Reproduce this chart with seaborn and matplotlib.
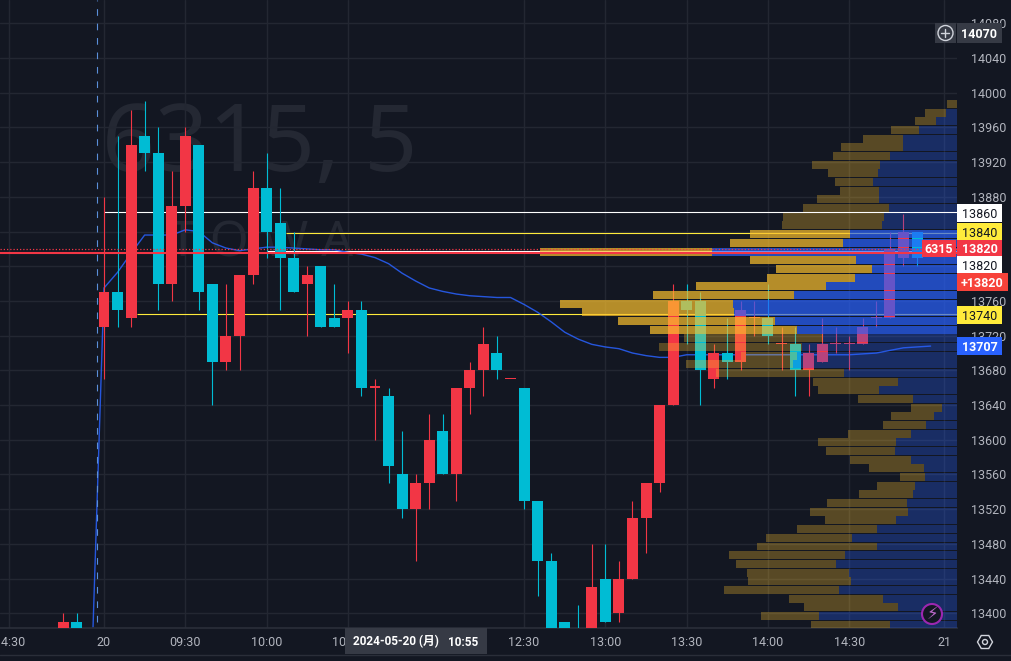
import numpy as np
import pandas as pd
import matplotlib
matplotlib.use("Agg")
import matplotlib.pyplot as plt
from matplotlib.patches import Circle, Rectangle, RegularPolygon
import seaborn as sns

# ohlc, 5 minute candles, first two are from the previous session
candle_index = list(range(-3, -1)) + list(range(0, 61))
opens = [13370, 13390,
         13730, 13770, 13740, 13950, 13930, 13780, 13870, 13940, 13780, 13690,
         13720, 13790, 13890, 13850, 13810, 13780, 13800, 13740, 13740, 13750,
         13660, 13650, 13560, 13520, 13550, 13610, 13560, 13660, 13680, 13700,
         13670, 13660, 13530, 13460, 13390, 13370, 13370, 13440, 13400, 13440,
         13510, 13550, 13640, 13760, 13760, 13670, 13700, 13690, 13740, 13740,
         13710, 13710, 13680, 13690, 13710, 13710, 13710, 13740, 13740, 13810, 13840]
highs = [13400, 13400,
         13880, 13950, 13980, 13990, 13960, 13910, 13960, 13940, 13780, 13780,
         13790, 13910, 13930, 13890, 13840, 13800, 13800, 13780, 13760, 13760,
         13670, 13660, 13610, 13560, 13630, 13630, 13660, 13690, 13730, 13720,
         13670, 13660, 13530, 13470, 13390, 13410, 13480, 13480, 13460, 13530,
         13550, 13640, 13780, 13780, 13770, 13710, 13740, 13760, 13760, 13780,
         13730, 13730, 13710, 13740, 13730, 13720, 13740, 13760, 13840, 13860, 13840]
lows = [13370, 13370,
        13670, 13730, 13730, 13910, 13750, 13760, 13840, 13750, 13640, 13680,
        13680, 13780, 13810, 13750, 13770, 13720, 13730, 13730, 13700, 13650,
        13600, 13550, 13510, 13460, 13520, 13560, 13530, 13630, 13650, 13670,
        13670, 13520, 13420, 13370, 13360, 13350, 13370, 13390, 13390, 13440,
        13470, 13540, 13640, 13710, 13640, 13660, 13670, 13680, 13720, 13710,
        13680, 13650, 13650, 13690, 13700, 13680, 13710, 13730, 13740, 13800, 13800]
closes = [13390, 13370,
          13770, 13750, 13940, 13930, 13780, 13870, 13950, 13770, 13690, 13720,
          13790, 13890, 13840, 13810, 13770, 13790, 13730, 13730, 13750, 13660,
          13660, 13570, 13520, 13550, 13600, 13560, 13660, 13680, 13710, 13680,
          13670, 13530, 13460, 13370, 13360, 13350, 13430, 13390, 13440, 13510,
          13550, 13640, 13760, 13750, 13680, 13700, 13690, 13750, 13740, 13720,
          13710, 13680, 13700, 13710, 13710, 13710, 13730, 13740, 13820, 13840, 13810]

vwap_index = list(range(-1, 62))
vwap = [13292, 13775, 13793, 13815, 13836, 13836, 13836, 13842, 13840, 13827,
        13821, 13818, 13820, 13822, 13822, 13821, 13820, 13819, 13819, 13816,
        13814, 13810, 13803, 13792, 13783, 13775, 13771, 13768, 13766, 13765,
        13764, 13764, 13756, 13747, 13736, 13724, 13716, 13710, 13707, 13705,
        13700, 13697, 13695, 13695, 13698, 13698, 13698, 13698, 13698, 13698,
        13698, 13698, 13698, 13698, 13698, 13698, 13698, 13699, 13700, 13703,
        13706, 13707, 13708]

# volume profile, one row every 10 yen
row_prices = [13387 + 10 * k for k in range(61)]
buy_vol = [67, 138, 59, 74, 118, 106, 108, 121, 112, 80, 105, 80, 61, 49, 50, 44,
           42, 32, 33, 46, 62, 61, 46, 31, 23, 15, 44, 78, 59, 113, 164, 160, 155,
           134, 160, 182, 223, 224, 163, 131, 102, 85, 101, 245, 114, 107, 75, 73,
           68, 78, 78, 84, 79, 77, 67, 54, 54, 38, 21, 11, 0]
sell_vol = [79, 58, 94, 94, 115, 103, 102, 100, 116, 120, 86, 80, 71, 98, 80, 54,
            38, 25, 55, 61, 69, 78, 63, 43, 43, 31, 55, 61, 85, 128, 107, 56, 143,
            139, 147, 157, 152, 173, 141, 130, 88, 96, 106, 172, 113, 100, 100, 101,
            86, 62, 39, 38, 50, 68, 57, 62, 40, 28, 21, 21, 10]
value_low, value_high = 13727, 13837

time_ticks = [-7, 0, 6, 12, 18, 31, 37, 43, 49, 55, 62]
time_labels = ["14:30", "20", "09:30", "10:00", "10:30", "12:30", "13:00", "13:30", "14:00", "14:30", "21"]
price_ticks = list(range(13400, 14081, 40))
# these two sit fully behind a price tag
hidden_prices = [13800, 13840]

BG = "#131722"
GRID = "#232732"
TEXT = "#b2b5be"
RED = "#f23645"
CYAN = "#00bcd4"
BLUE = "#2962ff"
GOLD = "#fbc02d"
YELLOW = "#ffeb3b"
TAG = "#363a45"
FONT = "Roboto"

sns.set_theme(style="dark", rc={"figure.facecolor": BG, "axes.facecolor": BG})
plt.rcParams["font.family"] = [FONT, "Noto Sans CJK JP", "DejaVu Sans"]

fig = plt.figure(figsize=(10.12, 6.61), dpi=100)
ax = fig.add_axes([0, 33 / 661, 957 / 1012, 628 / 661])
xlim = (-7.675, 62.95)
ylim = (13383.06, 14106.9)

ax.set_xticks(time_ticks, time_labels)
ax.yaxis.tick_right()
ax.set_yticks(price_ticks, ["" if p in hidden_prices else str(p) for p in price_ticks])
ax.tick_params(axis="x", length=0, pad=6, colors=TEXT, labelsize=9)
ax.tick_params(axis="y", length=0, pad=10, colors=TEXT, labelsize=9)
ax.grid(True, color=GRID, linewidth=1)
ax.set_axisbelow(True)
for name, spine in ax.spines.items():
    spine.set_visible(name == "bottom")
    spine.set_color("#2a2e39")

ax.text(0.107, 0.766, "6315, 5", transform=ax.transAxes, fontsize=67, color="#242833",
        family="Noto Sans", va="center", ha="left", zorder=0.5)
ax.text(0.273, 0.612, "T O W A", transform=ax.transAxes, fontsize=36, color="#242833",
        family="Noto Sans", va="center", ha="center", zorder=0.5)

# price lines that sit behind the profile
ax.hlines(13862, 0, xlim[1], color="white", lw=0.8, zorder=2)
ax.hlines(13838, 13.4, xlim[1], color=YELLOW, lw=0.8, zorder=2)
ax.hlines(13818, 12, xlim[1], color="white", lw=0.8, zorder=2)
ax.hlines(13745, 2.4, xlim[1], color=YELLOW, lw=0.8, zorder=2)

sns.lineplot(x=vwap_index, y=vwap, ax=ax, color=BLUE, lw=1, sort=False, estimator=None, zorder=2.5, alpha=0.85)

for i, o, h, l, c in zip(candle_index, opens, highs, lows, closes):
    col = CYAN if c < o else RED
    ax.vlines(i, l, h, color=col, lw=0.8, zorder=3)
    ax.bar(i, max(abs(c - o), 1.5), bottom=min(o, c), width=0.81, color=col, linewidth=0, zorder=3)

# profile on its own x axis, volume grows to the left from the price scale
ax2 = ax.twiny()
ax2.set_zorder(ax.get_zorder() + 1)
ax2.patch.set_visible(False)
df = pd.DataFrame({"price": row_prices, "buy": buy_vol, "sell": sell_vol})
df["value_area"] = df["price"].between(value_low, value_high)
for in_area, alpha in [(True, 0.7), (False, 0.3)]:
    part = df[df["value_area"] == in_area]
    sns.barplot(data=part, y="price", x="buy", orient="y", native_scale=True, width=0.92,
                color=BLUE, saturation=1, alpha=alpha, linewidth=0, errorbar=None, ax=ax2)
    sns.barplot(data=part, y="price", x="sell", orient="y", native_scale=True, width=0.92,
                left=part["buy"].to_numpy(), color=GOLD, saturation=1, alpha=alpha,
                linewidth=0, errorbar=None, ax=ax2)
ax2.set_xlim(957, 0)
ax2.axis("off")

ax3 = ax.twiny()
ax3.set_zorder(ax2.get_zorder() + 1)
ax3.patch.set_visible(False)
ax3.set_xlim(xlim)
ax3.hlines(13815.5, xlim[0], xlim[1], color=RED, lw=1.5)
ax3.hlines(13820, xlim[0], xlim[1], color=RED, lw=0.9, linestyles=(0, (1, 1.6)))
ax3.vlines(-0.5, 13390, ylim[1], color="#5b8fd9", lw=0.8, linestyles=(0, (6, 7)))
ax3.axis("off")

ax.set_xlim(xlim)
ax.set_ylim(ylim)
ax2.set_ylim(ylim)
ax3.set_ylim(ylim)

# tags and buttons are placed in pixel coordinates on a top layer
ov = fig.add_axes([0, 0, 1, 1], zorder=10)
ov.set_xlim(0, 1012)
ov.set_ylim(661, 0)
ov.axis("off")
ov.patch.set_visible(False)


def tag(x0, x1, yc, label, face, color="white", weight="normal", h=18):
    ov.add_patch(Rectangle((x0, yc - h / 2), x1 - x0, h, facecolor=face, edgecolor="none"))
    ov.text((x0 + x1) / 2, yc, label, color=color, fontsize=9, weight=weight, ha="center", va="center_baseline")


ov.plot([0, 1012], [655, 655], color="#2a2e39", lw=1)
tag(957, 1002, 33, "14070", TAG, weight="bold", h=20)
tag(957, 1002, 213, "13860", "white", color="#131722")
tag(957, 1002, 232, "13840", YELLOW, color="#131722")
tag(922, 956, 248, "6315", RED, weight="bold", h=17)
tag(957, 1002, 248, "13820", RED, weight="bold", h=17)
tag(957, 1002, 265, "13820", "white", color="#131722")
tag(957, 1008, 282, "+13820", "#f7423a", weight="bold")
tag(957, 1002, 315, "13740", YELLOW, color="#131722")
tag(957, 1002, 346, "13707", BLUE, weight="bold")

ov.add_patch(Rectangle((345, 628), 142, 26, facecolor=TAG, edgecolor="none"))
ov.text(353, 642, "2024-05-20 (月)", color="white", fontsize=8.5, weight="bold", va="center")
ov.text(448, 642, "10:55", color="white", fontsize=8.5, weight="bold", va="center")

ov.add_patch(Rectangle((935, 23), 21, 20, facecolor=TAG, edgecolor="none"))
ov.add_patch(Circle((945.5, 33), 7.5, facecolor="none", edgecolor="#d1d4dc", lw=1))
ov.plot([941.5, 949.5], [33, 33], color="#d1d4dc", lw=1)
ov.plot([945.5, 945.5], [29, 37], color="#d1d4dc", lw=1)

ov.add_patch(Circle((932, 614), 10, facecolor=BG, edgecolor="#9c27b0", lw=1.5))
ov.text(932, 614, "⚡", color="#ba68c8", fontsize=12, family="DejaVu Sans", ha="center", va="center")

ov.add_patch(RegularPolygon((985, 642), 6, radius=7.5, orientation=np.pi / 2, facecolor="none", edgecolor="#d1d4dc", lw=1))
ov.add_patch(Circle((985, 642), 2.5, facecolor="none", edgecolor="#d1d4dc", lw=1))

fig.savefig("out.png", dpi=100, facecolor=BG)
